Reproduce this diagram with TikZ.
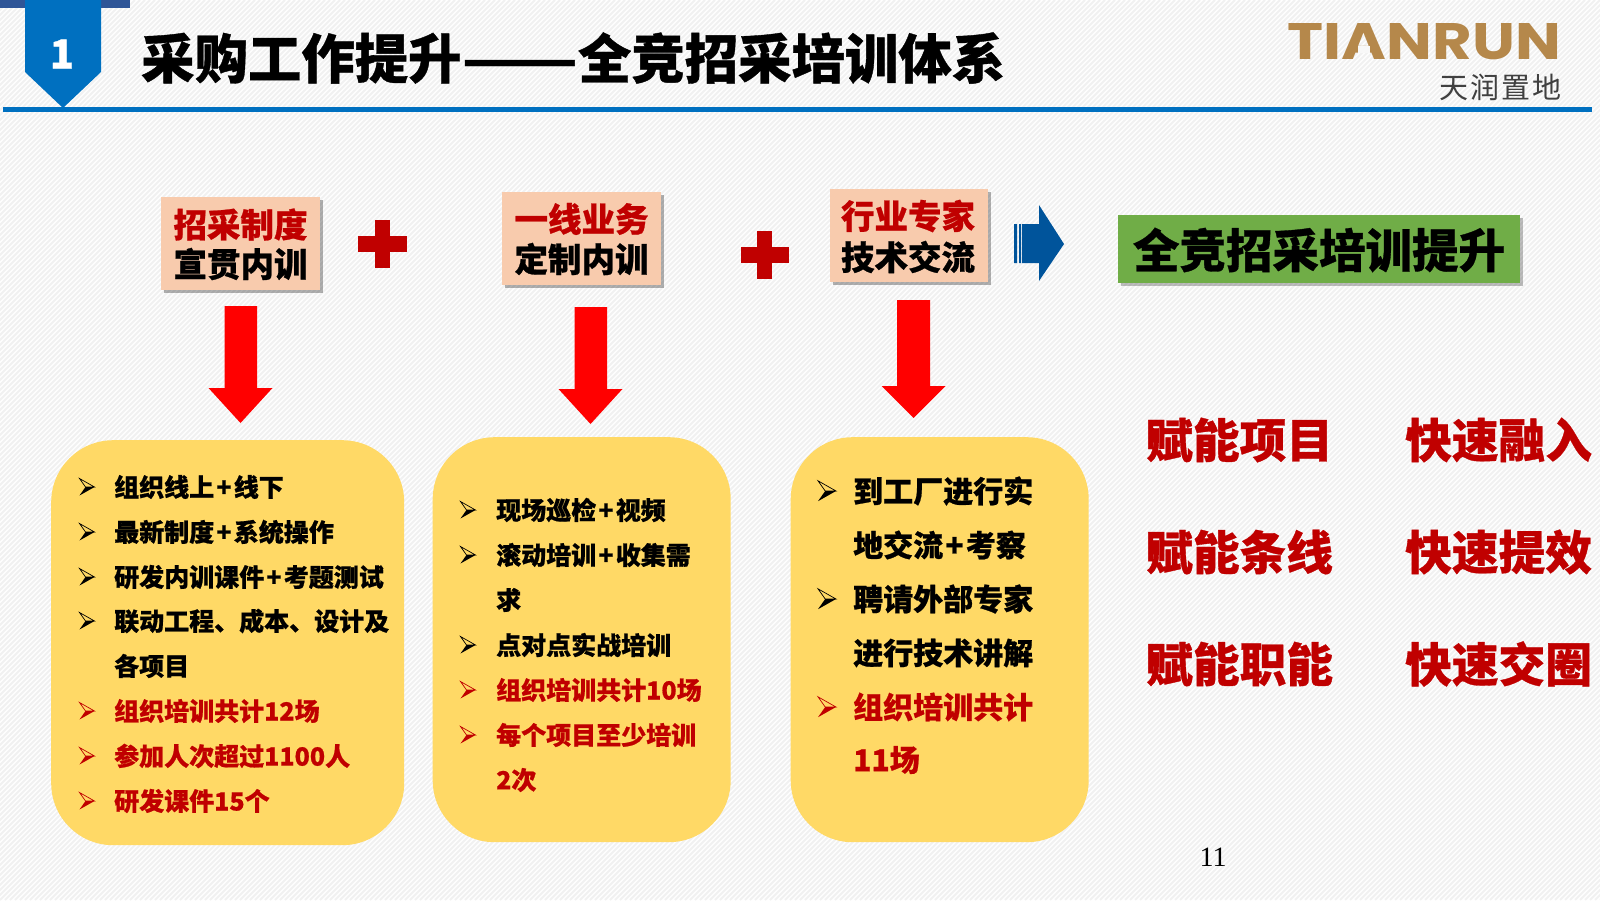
\documentclass[tikz,border=0pt]{standalone}
\usepackage{fontspec}
\usetikzlibrary{shadows}
\newfontfamily\cjk{Noto Sans CJK SC}[BoldFeatures={FakeBold=0.7}]
\newfontfamily\cjkl{Noto Sans CJK SC}
\newfontfamily\logofnt{Poppins}
\setmainfont{Liberation Serif}
\definecolor{hdrblue}{HTML}{0070C0}
\definecolor{tabblue}{HTML}{2F5597}
\definecolor{arrowblue}{HTML}{00549B}
\definecolor{yel}{HTML}{FFD966}
\definecolor{peach}{HTML}{F8CBAD}
\definecolor{grn}{HTML}{70AD47}
\definecolor{gold}{HTML}{B5884B}
\definecolor{dred}{HTML}{C00000}
\definecolor{hatch}{HTML}{F1F1F1}
\definecolor{bgavg}{HTML}{F8F8F8}
\newcommand{\fs}[1]{\fontsize{#1}{#1}\selectfont}
\newcommand{\pl}{\kern2.2pt+\kern2.2pt}
\newcommand{\bulmark}[4]{\begin{scope}[shift={(#1,#2)},scale=#3]
  \draw[#4,line width=.7pt,line join=miter] (-7.5,-8.5) -- (7.5,0) -- (-1.5,0) -- cycle;
  \fill[#4] (-1.5,0) -- (7.5,0) -- (-7.5,8.5) -- cycle;
\end{scope}}
\tikzset{
  x=1pt,y=-1pt,
  headbox/.style={fill=peach,draw=none,inner sep=0pt,align=center,anchor=north west,
    drop shadow={shadow xshift=3pt,shadow yshift=-3pt,fill=black,opacity=.3}},
  hl/.style={font=\cjk\bfseries\fs{33.5},inner sep=0,text=#1},
  yellowbox/.style={fill=yel,draw=none,rounded corners=62pt,inner sep=0pt,anchor=north west},
  item/.style={anchor=west,inner sep=0,font=\cjk\bfseries\fs{25},text=black},
  redi/.style={item,text=dred},
  bigitem/.style={item,font=\cjk\bfseries\fs{30}},
  bigredi/.style={bigitem,text=dred},
  benefit/.style={inner sep=0,anchor=west,font=\cjk\bfseries\fs{46.7},text=dred},
  redarrow/.style={fill=red,draw=none},
  plusmark/.style={fill=dred,draw=none},
}
\begin{document}
\begin{tikzpicture}
\useasboundingbox (0,0) rectangle (1600,900);
\fill[white] (0,0) rectangle (1600,900);
\begin{scope}
\clip (0,0) rectangle (1600,900);
\foreach \i in {0,5,...,2500}{\draw[hatch,line width=2pt] (\i,0) -- (\i-900,900);}
\end{scope}
% header
\fill[tabblue] (0,0) rectangle (130,8);
\fill[hdrblue] (25,0) -- (101,0) -- (101,72) -- (63,108) -- (25,72) -- cycle;
\node[text=white,inner sep=0,font=\cjk\bfseries\fs{40}] (num) at (62,54) {1};
\fill[hdrblue] (3,107) rectangle (1592,112);
\node[anchor=west,inner sep=0,font=\cjk\bfseries\fs{53.4}] (title) at (141,58) {采购工作提升\scalebox{1.27}[1]{——}全竞招采培训体系};
% logo
\node[inner sep=0,text=gold] (logotxt) at (1424.5,42) {\resizebox{273pt}{36pt}{\logofnt\bfseries TIA\llap{\color{bgavg}\rule[.13em]{.2em}{.14em}\hspace{.27em}}NRUN}};
\node[inner sep=0,anchor=east,text=black!75,font=\cjkl\fs{29}] (logocn) at (1562,87) {天\hspace{2pt}润\hspace{2pt}置\hspace{2pt}地};
% head boxes
\node[headbox,minimum width=159pt,minimum height=93pt] (b1) at (161,197) {};
\node[hl=dred] (b1a) at (240.5,224.5) {招采制度};
\node[hl=black] (b1b) at (240.5,264) {宣贯内训};
\node[headbox,minimum width=159pt,minimum height=93pt] (b2) at (502,192) {};
\node[hl=dred] (b2a) at (581.5,219) {一线业务};
\node[hl=black] (b2b) at (581.5,259) {定制内训};
\node[headbox,minimum width=158pt,minimum height=93pt] (b3) at (830,189) {};
\node[hl=dred] (b3a) at (908,216) {行业专家};
\node[hl=black] (b3b) at (908,257) {技术交流};
\node[fill=grn,inner sep=0,anchor=north west,minimum width=402pt,minimum height=68pt,
  drop shadow={shadow xshift=3pt,shadow yshift=-3pt,fill=black,opacity=.25}] (g) at (1118,215) {};
\node[inner sep=0,font=\cjk\bfseries\fs{46.5}] (gt) at (1319,250) {全竞招采培训提升};
% plus
\fill[plusmark] (375,220) rectangle (390,268);
\fill[plusmark] (358,236) rectangle (407,252);
\fill[plusmark] (757,231) rectangle (772,279);
\fill[plusmark] (741,247) rectangle (789,263);
% blue arrow
\fill[arrowblue] (1014,224) rectangle (1017,263) (1019,224) rectangle (1021,263)
  (1022,224) -- (1039,224) -- (1039,205) -- (1064,244) -- (1039,281) -- (1039,263) -- (1022,263) -- cycle;
% red arrows
\fill[redarrow] (224.5,306) -- (257,306) -- (257,388) -- (272.5,388) -- (240.5,423) -- (208.5,388) -- (224.5,388) -- cycle;
\fill[redarrow] (574.5,307) -- (607,307) -- (607,389) -- (622.5,389) -- (590.5,424) -- (558.5,389) -- (574.5,389) -- cycle;
\fill[redarrow] (897,300) -- (930,300) -- (930,386) -- (945.5,386) -- (913.5,418) -- (881.5,386) -- (897,386) -- cycle;
% yellow boxes
\node[yellowbox,minimum width=353pt,minimum height=405pt] (y1) at (51,440) {};
\node[yellowbox,minimum width=298pt,minimum height=405pt] (y2) at (432.5,437) {};
\node[yellowbox,minimum width=298pt,minimum height=405pt] (y3) at (790.5,437) {};
% box 1
\foreach \y/\t in {487/组织线上\pl 线下,532/最新制度\pl 系统操作,577/研发内训课件\pl 考题测试,621/联动工程、成本、设计及}{
  \bulmark{87}{\y}{1}{black} \node[item] at (114,\y) {\t};}
\node[item] (i1) at (114,666) {各项目};
\foreach \y/\t in {711/组织培训共计12场,756/参加人次超过1100人,801/研发课件15个}{
  \bulmark{87}{\y}{1}{dred} \node[redi] at (114,\y) {\t};}
% box 2
\foreach \y/\t in {510/现场巡检\pl 视频,555/滚动培训\pl 收集需,645/点对点实战培训}{
  \bulmark{468}{\y}{1}{black} \node[item] at (496,\y) {\t};}
\node[item] (i2) at (496,600) {求};
\foreach \y/\t in {690/组织培训共计10场,735/每个项目至少培训}{
  \bulmark{468}{\y}{1}{dred} \node[redi] at (496,\y) {\t};}
\node[redi] (i3) at (496,780) {2次};
% box 3
\bulmark{827}{491}{1.2}{black}
\node[bigitem] at (853,491) {到工厂进行实};
\node[bigitem] at (853,545) {地交流\pl 考察};
\bulmark{827}{599}{1.2}{black}
\node[bigitem] at (853,599) {聘请外部专家};
\node[bigitem] at (853,653) {进行技术讲解};
\bulmark{827}{707}{1.2}{dred}
\node[bigredi] at (853,707) {组织培训共计};
\node[bigredi] at (853,760) {11场};
% benefits
\node[benefit] at (1146,440) {赋能项目};
\node[benefit] at (1146,552) {赋能条线};
\node[benefit] at (1146,664) {赋能职能};
\node[benefit] at (1405,440) {快速融入};
\node[benefit] at (1405,552) {快速提效};
\node[benefit] at (1405,664) {快速交圈};
\node[inner sep=0,font=\rmfamily\fs{28}] (pg) at (1213,857) {11};
\end{tikzpicture}
\end{document}
